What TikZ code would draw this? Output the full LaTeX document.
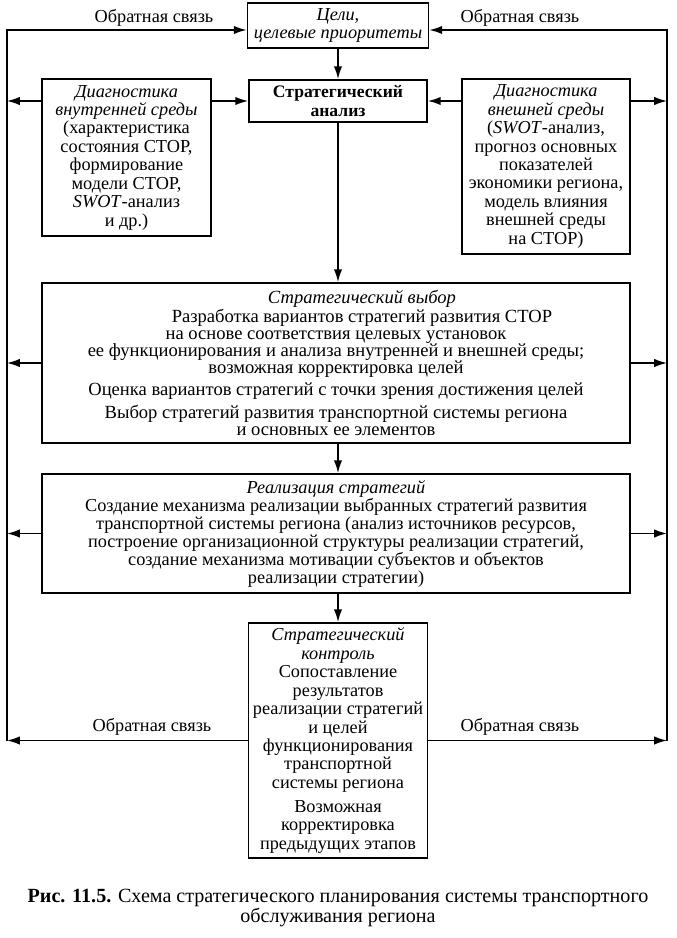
\documentclass[tikz,border=0pt]{standalone}
\usepackage{fontspec}
\setmainfont{Liberation Serif}
\usetikzlibrary{arrows.meta,positioning}

\begin{document}
\begin{tikzpicture}[
  x=0.025cm, y=-0.025cm,
  >={Latex[length=3.2mm,width=2.1mm]},
  every node/.style={font=\fontsize{13}{13.1}\selectfont},
  blk/.style={draw, line width=1.3pt, align=center, inner sep=1.5pt},
  tight/.style={font=\fontsize{13.2}{12.2}\selectfont},
  link/.style={->, line width=1.1pt}
]
\useasboundingbox (0,0) rectangle (676,938);

% блоки
\node[blk, minimum width=4.525cm, minimum height=1.125cm] (goals) at (338,25.5)
  {\textit{Цели,}\\\textit{целевые приоритеты}};
\node[blk, font=\fontsize{12.5}{13}\selectfont, minimum width=4.45cm, minimum height=1.05cm] (analysis) at (338,101)
  {\textbf{Стратегический}\\\textbf{анализ}};
\node[blk, minimum width=4.225cm, minimum height=3.925cm] (intdiag) at (126.5,157.5)
  {\textit{Диагностика}\\\textit{внутренней среды}\\(характеристика\\состояния СТОР,\\формирование\\модели СТОР,\\\textit{SWOT}-анализ\\и др.)};
\node[blk, minimum width=4.2cm, minimum height=4.375cm] (extdiag) at (546,166.5)
  {\textit{Диагностика}\\\textit{внешней среды}\\(\textit{SWOT}-анализ,\\прогноз основных\\показателей\\экономики региона,\\модель влияния\\внешней среды\\на СТОР)};
\node[blk, tight, minimum width=14.7cm, minimum height=4cm] (choice) at (336,363)
  {\hspace*{1.3cm}\textit{Стратегический выбор}\\
   \hspace*{1.3cm}Разработка вариантов стратегий развития СТОР\\
   на основе соответствия целевых установок\\
   ее функционирования и анализа внутренней и внешней среды;\\
   возможная корректировка целей\\[3pt]
   Оценка вариантов стратегий с точки зрения достижения целей\\[3pt]
   Выбор стратегий развития транспортной системы региона\\
   и основных ее элементов};
\node[blk, font=\fontsize{13}{12.8}\selectfont, minimum width=14.7cm, minimum height=2.975cm] (impl) at (336,533.5)
  {\textit{Реализация стратегий}\\
   Создание механизма реализации выбранных стратегий развития\\
   транспортной системы региона (анализ источников ресурсов,\\
   построение организационной структуры реализации стратегий,\\
   создание механизма мотивации субъектов и объектов\\
   реализации стратегии)};
\node[blk, inner sep=1pt, minimum width=4.475cm, minimum height=5.875cm] (control) at (338,740.5)
  {\textit{Стратегический}\\\textit{контроль}\\Сопоставление\\результатов\\реализации стратегий\\и целей\\функционирования\\транспортной\\системы региона\\[4pt]Возможная\\корректировка\\предыдущих этапов};

% линии обратной связи
\coordinate (lt) at (7,30);
\coordinate (rt) at (667,30);
\coordinate (lb) at (7,741);
\coordinate (rb) at (667,741);

\draw[link] (control.west) -- (control.west -| lb);
\draw[link] (control.east) -- (control.east -| rb);
\draw[link] (lb) -- (lt) -- (lt -| goals.west);
\draw[link] (rb) -- (rt) -- (rt -| goals.east);

\node (fbtl) at (154,18) {Обратная связь};
\node (fbtr) at (520,18) {Обратная связь};
\node (fbbl) at (152,727) {Обратная связь};
\node (fbbr) at (520,727) {Обратная связь};

% связи между блоками
\draw[link] (goals.south) -- (analysis.north);
\draw[link] (analysis.west -| intdiag.east) -- (analysis.west);
\draw[link] (analysis.east -| extdiag.west) -- (analysis.east);
\draw[link] (intdiag.west |- analysis.west) -- (analysis.west -| lt);
\draw[link] (extdiag.east |- analysis.east) -- (analysis.east -| rt);
\draw[link] (analysis.south) -- (analysis.south |- choice.north);
\draw[link] (choice.west) -- (choice.west -| lt);
\draw[link] (choice.east) -- (choice.east -| rt);
\draw[link] (choice.south -| analysis.south) -- (impl.north -| analysis.south);
\draw[link] (impl.west) -- (impl.west -| lt);
\draw[link] (impl.east) -- (impl.east -| rt);
\draw[link] (impl.south -| control.north) -- (control.north);

% подпись
\node[align=center, font=\fontsize{14.3}{14.4}\selectfont] (caption) at (338,908)
  {\textbf{Рис. 11.5.} Схема стратегического планирования системы транспортного\\обслуживания региона};
\end{tikzpicture}
\end{document}
